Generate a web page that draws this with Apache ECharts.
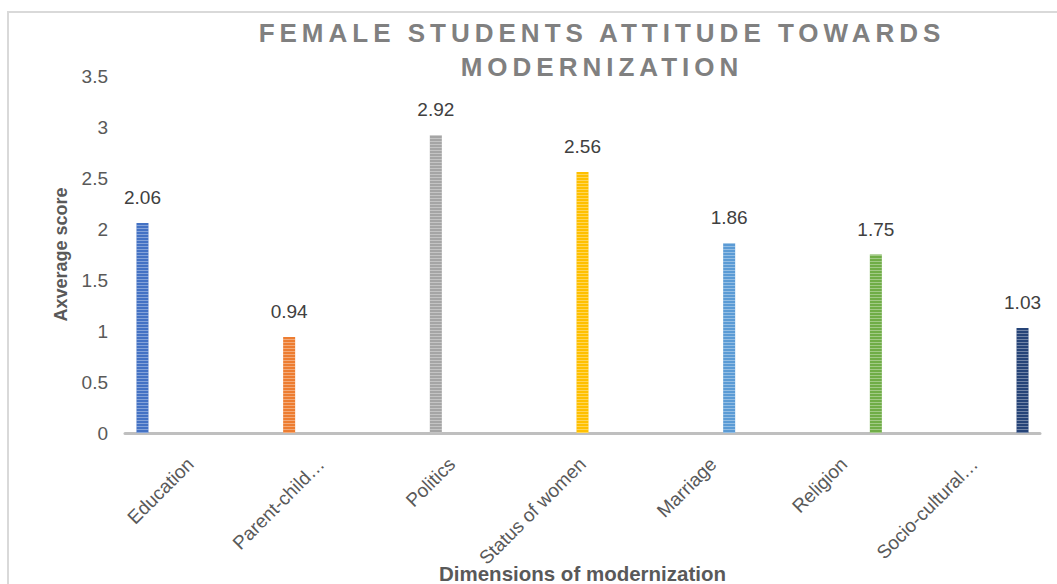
<!DOCTYPE html>
<html>
<head>
<meta charset="utf-8">
<script src="https://cdn.jsdelivr.net/npm/echarts@6/dist/echarts.min.js"></script>
<style>
  html, body { margin: 0; padding: 0; background: #fff; }
  #chart { width: 1057px; height: 584px; }
</style>
</head>
<body>
<div id="chart"></div>
<script>
// Dimensions of modernization and their average scores
const categories = ['Education', 'Parent-child…', 'Politics', 'Status of women', 'Marriage', 'Religion', 'Socio-cultural…'];
const scores = [2.06, 0.94, 2.92, 2.56, 1.86, 1.75, 1.03];
const barColors = ['#4472C4', '#ED7D31', '#A5A5A5', '#FFC000', '#5B9BD5', '#70AD47', '#264478'];
const titleLines = ['FEMALE STUDENTS ATTITUDE TOWARDS', 'MODERNIZATION'];
const yTicks = { min: 0, max: 3.5, interval: 0.5 };

const FONT = '"Liberation Sans", Arial, Helvetica, sans-serif';

// One series per dimension, each holding a value only in its own category
const series = categories.map((name, i) => ({
  name: name,
  type: 'bar',
  barWidth: 12,
  barGap: '33%',
  data: categories.map((_, j) => (j === i ? scores[i] : null)),
  itemStyle: {
    color: barColors[i],
    decal: {
      symbol: 'rect',
      symbolSize: 1,
      color: 'rgba(255,255,255,0.35)',
      dashArrayX: [1, 0],
      dashArrayY: [1, 2],
      rotation: 0
    }
  },
  label: {
    show: true,
    position: 'top',
    distance: 16,
    fontFamily: FONT,
    fontSize: 19,
    color: '#404040'
  }
}));

const chart = echarts.init(document.getElementById('chart'), null, { renderer: 'svg' });

chart.setOption({
  backgroundColor: '#fff',
  animation: false,
  aria: { enabled: true, decal: { show: true } },
  title: {
    text: titleLines.join('\n'),
    left: 597,
    top: 11,
    textAlign: 'center',
    textStyle: {
      fontFamily: FONT,
      fontSize: 26,
      fontWeight: 'bold',
      color: '#808080',
      lineHeight: 34
    }
  },
  graphic: [{
    type: 'rect',
    z: -1,
    shape: { x: 8, y: 12, width: 1100, height: 700 },
    style: { fill: 'none', stroke: '#D9D9D9', lineWidth: 2 }
  }],
  grid: { left: 125, right: 17, top: 76, bottom: 151, containLabel: false, outerBoundsMode: 'none' },
  xAxis: {
    type: 'category',
    data: categories,
    axisLine: { show: true, lineStyle: { color: '#BFBFBF', width: 3 } },
    axisTick: { show: false },
    axisLabel: {
      rotate: 45,
      interval: 0,
      margin: 28,
      fontFamily: FONT,
      fontSize: 19,
      color: '#595959'
    },
    name: 'Dimensions of modernization',
    nameLocation: 'middle',
    nameGap: 130,
    nameMoveOverlap: false,
    nameTextStyle: { fontFamily: FONT, fontSize: 20.5, fontWeight: 'bold', color: '#595959' }
  },
  yAxis: {
    type: 'value',
    min: yTicks.min,
    max: yTicks.max,
    interval: yTicks.interval,
    axisLine: { show: false },
    axisTick: { show: false },
    splitLine: { show: false },
    axisLabel: { margin: 17, fontFamily: FONT, fontSize: 19, color: '#595959' },
    name: 'Axverage score',
    nameLocation: 'middle',
    nameGap: 55,
    nameMoveOverlap: false,
    nameTextStyle: { fontFamily: FONT, fontSize: 18, fontWeight: 'bold', color: '#595959' }
  },
  series: series
});

// Spread the title letters out
function spaceTitle() {
  document.querySelectorAll('#chart svg text').forEach(t => {
    if (titleLines.indexOf(t.textContent) >= 0) {
      t.setAttribute('letter-spacing', '5px');
    }
  });
}
chart.on('finished', spaceTitle);
spaceTitle();
</script>
</body>
</html>
